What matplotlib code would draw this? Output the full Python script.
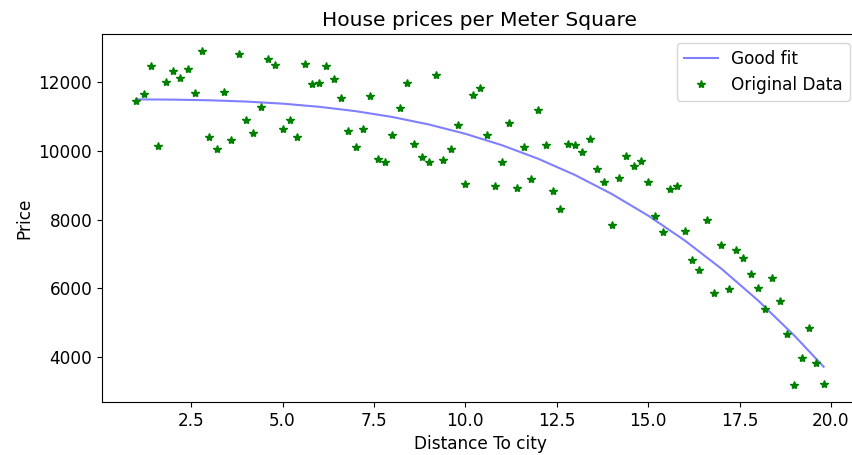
import matplotlib
matplotlib.use("Agg")
import matplotlib.pyplot as plt

# Original data (distance to city, price per square meter)
distance = [1.0, 1.2, 1.4, 1.6, 1.8, 2.0, 2.2, 2.4, 2.6, 2.8,
            3.0, 3.2, 3.4, 3.6, 3.8, 4.0, 4.2, 4.4, 4.6, 4.8,
            5.0, 5.2, 5.4, 5.6, 5.8, 6.0, 6.2, 6.4, 6.6, 6.8,
            7.0, 7.2, 7.4, 7.6, 7.8, 8.0, 8.2, 8.4, 8.6, 8.8,
            9.0, 9.2, 9.4, 9.6, 9.8, 10.0, 10.2, 10.4, 10.6, 10.8,
            11.0, 11.2, 11.4, 11.6, 11.8, 12.0, 12.2, 12.4, 12.6, 12.8,
            13.0, 13.2, 13.4, 13.6, 13.8, 14.0, 14.2, 14.4, 14.6, 14.8,
            15.0, 15.2, 15.4, 15.6, 15.8, 16.0, 16.2, 16.4, 16.6, 16.8,
            17.0, 17.2, 17.4, 17.6, 17.8, 18.0, 18.2, 18.4, 18.6, 18.8,
            19.0, 19.2, 19.4, 19.6, 19.8]
price = [11452, 11634, 12452, 10147, 12000, 12307, 12115, 12365, 11663, 12893,
         10386, 10049, 11712, 10309, 12798, 10885, 10501, 11279, 12654, 12499,
         10636, 10896, 10386, 12510, 11922, 11971, 12461, 12067, 11539, 10559,
         10107, 10636, 11588, 9772, 9666, 10444, 11232, 11971, 10204, 9819,
         9666, 12211, 9723, 10060, 10752, 9023, 11617, 11827, 10444, 8974,
         9666, 10790, 8925, 10107, 9187, 11173, 10156, 8830, 8302, 10204,
         10176, 9963, 10349, 9455, 9089, 7850, 9213, 9859, 9550, 9714,
         9089, 8109, 7648, 8879, 8974, 7657, 6832, 6544, 7994, 5881,
         7265, 5997, 7130, 6879, 6429, 6015, 5392, 6306, 5640, 4680,
         3190, 3979, 4862, 3835, 3239]

# Fitted curve values
fit_x = [1.0, 2.0, 3.0, 4.0, 5.0, 6.0, 7.0, 8.0, 9.0, 10.0,
         11.0, 12.0, 13.0, 14.0, 15.0, 16.0, 17.0, 18.0, 19.0, 19.8]
fit_y = [11489, 11482, 11463, 11426, 11365, 11274, 11147, 10978, 10761, 10490,
         10159, 9762, 9293, 8746, 8115, 7394, 6577, 5658, 4631, 3728]

W, H, DPI = 852, 455, 100
plt.rcParams["font.size"] = 12.2
fig = plt.figure(figsize=(W / DPI, H / DPI), dpi=DPI)
ax = fig.add_axes([102 / W, (H - 402) / H, 756 / W, 367.7 / H])

ax.plot(fit_x, fit_y, color="blue", alpha=0.5, linewidth=1.5, label="Good fit")
ax.plot(distance, price, "g*", label="Original Data")

ax.set_title("House prices per Meter Square", fontsize=14.6)
ax.set_xlabel("Distance To city")
ax.set_ylabel("Price")
ax.legend(loc="upper right")

fig.savefig("out.png", dpi=DPI)
